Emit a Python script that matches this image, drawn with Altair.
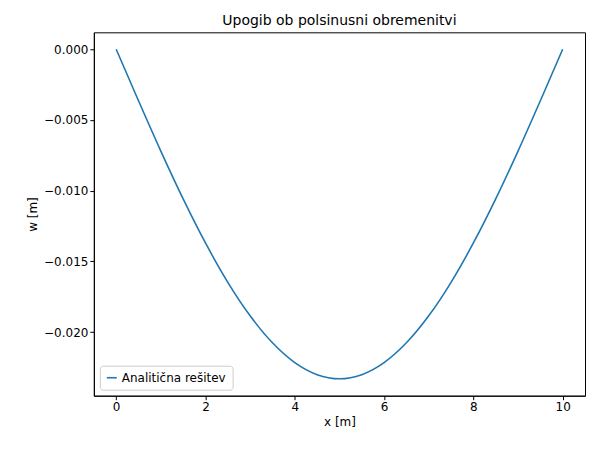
import altair as alt
import pandas as pd

x_vals = [0, 0.5, 1, 1.5, 2, 2.5, 3, 3.5, 4, 4.5, 5, 5.5, 6, 6.5, 7, 7.5, 8, 8.5, 9, 9.5, 10]
w_vals = [0.0, -0.00364, -0.0072, -0.01058, -0.0137, -0.01648, -0.01885, -0.02076,
          -0.02216, -0.02301, -0.0233, -0.02301, -0.02216, -0.02076, -0.01885,
          -0.01648, -0.0137, -0.01058, -0.0072, -0.00364, 0.0]
series = ["Analitična rešitev"] * len(x_vals)

df = pd.DataFrame({"x": x_vals, "w": w_vals, "s": series})

axis_style = dict(grid=False, tickSize=4, labelFontSize=12, titleFontSize=12,
                  titleFontWeight="normal", labelColor="black", titleColor="black",
                  domainColor="black", tickColor="black", labelFont="DejaVu Sans",
                  titleFont="DejaVu Sans")

chart = (
    alt.Chart(df)
    .mark_line(strokeWidth=1.6, interpolate="monotone")
    .encode(
        x=alt.X("x:Q", title="x [m]", scale=alt.Scale(domain=[-0.5, 10.5], nice=False),
                axis=alt.Axis(values=[0, 2, 4, 6, 8, 10], **axis_style)),
        y=alt.Y("w:Q", title="w [m]", scale=alt.Scale(domain=[-0.0245, 0.0012], nice=False, zero=False),
                axis=alt.Axis(values=[0, -0.005, -0.01, -0.015, -0.02], format=".3f", **axis_style)),
        color=alt.Color("s:N", title=None, scale=alt.Scale(range=["#1f77b4"]),
                        legend=alt.Legend(orient="bottom-left", symbolType="stroke",
                                          strokeColor="#cccccc", fillColor="white",
                                          padding=6, cornerRadius=3, labelFontSize=12,
                                          labelFont="DejaVu Sans", symbolStrokeWidth=1.6,
                                          offset=6)),
    )
    .properties(width=492, height=364,
                padding={"left": 18, "top": 6, "right": 5, "bottom": 5},
                title=alt.TitleParams("Upogib ob polsinusni obremenitvi", fontSize=14,
                                      fontWeight="normal", font="DejaVu Sans"))
    .configure_view(stroke="black")
)

chart.save("out.html", embed_options={"renderer": "svg", "actions": False})
